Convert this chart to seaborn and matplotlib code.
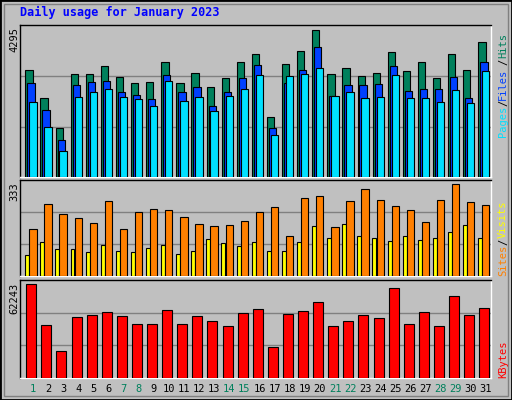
import matplotlib
matplotlib.use("Agg")
import matplotlib.pyplot as plt
import seaborn as sns
import pandas as pd
import numpy as np

days = list(range(1, 32))
hits = [3053,2256,1403,2939,2939,3166,2853,2683,2711,3280,2683,2967,2569,2825,3280,3508,1716,3223,3593,4190,2939,3109,2882,2967,3564,3024,3280,2825,3508,3053,3849]
files = [2683,1915,1062,2626,2711,2740,2427,2342,2228,2910,2427,2569,2029,2427,2825,3195,1403,2683,3053,3707,2313,2626,2626,2654,3166,2455,2512,2512,2853,2256,3280]
pages = [2142,1431,749,2285,2427,2512,2285,2228,2029,2740,2171,2285,1887,2313,2512,2910,1204,2882,2939,3109,2313,2427,2256,2285,2910,2256,2256,2142,2484,2114,3024]
visits = [163,250,215,201,184,260,163,222,232,229,205,180,173,177,191,222,239,139,271,277,170,260,302,264,243,229,187,264,319,257,246]
sites = [73,118,94,94,83,108,87,83,97,108,76,87,128,114,104,118,87,87,118,173,132,180,139,132,121,139,125,132,153,177,132]
kbytes = [59622,33510,17190,38733,40038,41997,39386,34163,34163,43302,34163,39386,36122,32858,41344,43955,19802,40691,42650,48525,32858,36122,40038,38080,57011,34163,41997,32858,51789,40038,44608]
weekend = [1,7,8,14,15,21,22,28,29]
max_hits, max_visits, max_kb = 4295, 333, 62243

sns.set_style("white")
plt.rcParams['font.family'] = ['DejaVu Sans Mono', 'DejaVu Sans']
BG = "#C0C0C0"
fig = plt.figure(figsize=(5.12, 4.0), dpi=100, facecolor=BG)
W, H = 512, 400
def axrect(x0, y0, x1, y1):
    return [x0 / W, 1 - y1 / H, (x1 - x0) / W, (y1 - y0) / H]

ax1 = fig.add_axes(axrect(20, 25, 491, 177))
ax2 = fig.add_axes(axrect(20, 180, 491, 276))
ax3 = fig.add_axes(axrect(20, 280, 491, 378))
d = np.array(days, dtype=float)

def bars(ax, xs, vals, color, width):
    df = pd.DataFrame({"x": xs, "y": vals})
    sns.barplot(data=df, x="x", y="y", native_scale=True, width=width, color=color,
                edgecolor="black", linewidth=0.8, saturation=1, ax=ax, zorder=3)

bars(ax1, d, hits, "#00805C", 0.48)
bars(ax1, d + 0.13, files, "#0040FF", 0.48)
bars(ax1, d + 0.26, pages, "#00E0FF", 0.48)
bars(ax2, d - 0.12, sites, "#FFFF00", 0.26)
bars(ax2, d + 0.26, visits, "#FF8000", 0.48)
bars(ax3, d + 0.15, kbytes, "#FF0000", 0.66)

for ax, m, top in [(ax1, max_hits, max_hits * 1.007), (ax2, max_visits, max_visits), (ax3, max_kb, max_kb)]:
    ax.set_facecolor(BG)
    ax.set_xlim(0.404, 31.6)
    ax.set_ylim(0, top)
    for g in (m / 3, 2 * m / 3):
        ax.axhline(g, color="#808080", lw=1, zorder=1)
    ax.set_xticks([]); ax.set_yticks([])
    ax.set_xlabel(""); ax.set_ylabel("")
    for s in ("left", "top"):
        ax.spines[s].set_color("black")
    for s in ("right", "bottom"):
        ax.spines[s].set_color("white")
    for s in ax.spines.values():
        s.set_linewidth(1)

fig.text(20 / W, 1 - 12 / H, "Daily usage for January 2023", color="#0000FF",
         fontsize=8.5, fontweight="bold", va="center", ha="left")
for y, t in [(27, "4295"), (182, "333"), (283, "62243")]:
    fig.text(14 / W, 1 - y / H, t, rotation=90, va="top", ha="center", fontsize=7.5, color="black")

def rlabel(y, t, c):
    fig.text(503 / W, 1 - y / H, t, rotation=90, va="bottom", ha="center", fontsize=7.5, color=c)
rlabel(137, "Pages", "#00E0FF"); rlabel(106, "/", "black"); rlabel(100, "Files", "#0040FF")
rlabel(65, "/", "black"); rlabel(58, "Hits", "#00805C")
rlabel(276, "Sites", "#FF8000"); rlabel(245, "/", "black"); rlabel(238, "Visits", "#FFFF00")
rlabel(378, "KBytes", "#FF0000")

for day in days:
    xpix = 33 + (day - 1) * 15.1
    fig.text(xpix / W, 1 - 389 / H, str(day), ha="center", va="center", fontsize=7.5,
             color="#00805C" if day in weekend else "black")

fig.patches.append(plt.Rectangle((0, 0), 1, 1, transform=fig.transFigure, fill=False,
                                 edgecolor="black", lw=2))
fig.patches.append(plt.Rectangle((4 / W, 4 / H), 1 - 8 / W, 1 - 8 / H, transform=fig.transFigure,
                                 fill=False, edgecolor="#808080", lw=1))
fig.savefig("out.png", dpi=100, facecolor=BG)
